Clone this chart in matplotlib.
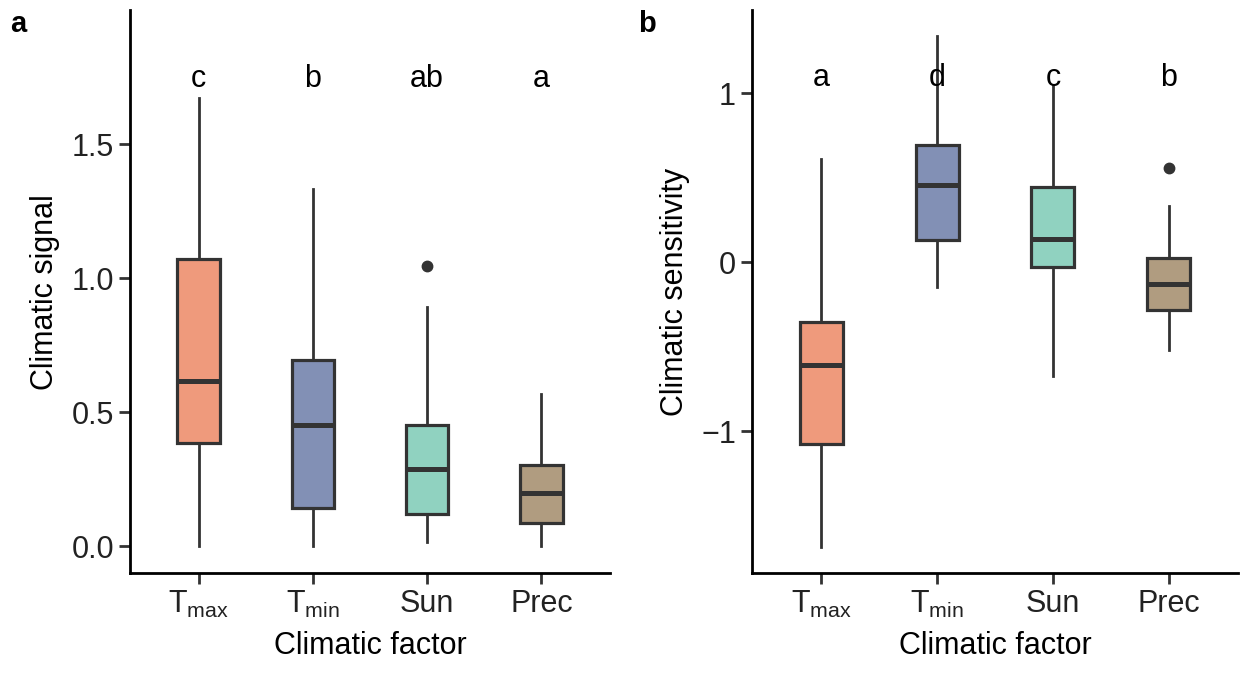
import matplotlib.pyplot as plt

plt.rcParams['font.family'] = ['Liberation Sans', 'DejaVu Sans']
plt.rcParams['mathtext.fontset'] = 'custom'
plt.rcParams['mathtext.rm'] = 'Liberation Sans'
plt.rcParams['mathtext.it'] = 'Liberation Sans'

# categories
factors = [r'T$_{\mathrm{max}}$', r'T$_{\mathrm{min}}$', 'Sun', 'Prec']
colors = ['#EF9A7C', '#8290B5', '#90D2C0', '#B09C80']

# panel a: climatic signal (whislo, q1, med, q3, whishi)
sig_low = [0.0, 0.0, 0.016, 0.0]
sig_q1 = [0.387, 0.142, 0.121, 0.085]
sig_med = [0.618, 0.452, 0.290, 0.197]
sig_q3 = [1.073, 0.694, 0.452, 0.302]
sig_high = [1.673, 1.334, 0.892, 0.569]
sig_out = [[], [], [1.045], []]
sig_letters = ['c', 'b', 'ab', 'a']

# panel b: climatic sensitivity
sen_low = [-1.687, -0.149, -0.672, -0.518]
sen_q1 = [-1.077, 0.128, -0.031, -0.282]
sen_med = [-0.610, 0.454, 0.136, -0.128]
sen_q3 = [-0.354, 0.692, 0.444, 0.026]
sen_high = [0.610, 1.338, 1.046, 0.333]
sen_out = [[], [], [], [0.559]]
sen_letters = ['a', 'd', 'c', 'b']

dark = '#333333'


def stats(low, q1, med, q3, high, out):
    return [dict(whislo=a, q1=b, med=c, q3=d, whishi=e, fliers=f)
            for a, b, c, d, e, f in zip(low, q1, med, q3, high, out)]


def panel(ax, st, letters, ylab, ylim, yticks, ytl, letter_y):
    pos = range(1, len(st) + 1)
    bp = ax.bxp(st, positions=pos, widths=0.37, patch_artist=True, showcaps=False,
                boxprops=dict(edgecolor=dark, linewidth=2.3),
                medianprops=dict(color=dark, linewidth=3.6, solid_capstyle='butt'),
                whiskerprops=dict(color=dark, linewidth=2.0),
                flierprops=dict(marker='o', markerfacecolor=dark, markeredgecolor=dark,
                                markersize=7.5))
    for patch, c in zip(bp['boxes'], colors):
        patch.set_facecolor(c)
    for i, t in enumerate(letters):
        ax.text(i + 1, letter_y, t, ha='center', va='center', fontsize=22, color='black')
    ax.set_xlim(0.4, 4.6)
    ax.set_ylim(*ylim)
    ax.set_yticks(yticks)
    ax.set_yticklabels(ytl)
    ax.set_xticks(list(pos))
    ax.set_xticklabels(factors)
    ax.tick_params(labelsize=22, width=2.0, length=8, color=dark, labelcolor='#222222')
    ax.set_xlabel('Climatic factor', fontsize=22, labelpad=8)
    ax.set_ylabel(ylab, fontsize=22, labelpad=8)
    for s in ['top', 'right']:
        ax.spines[s].set_visible(False)
    for s in ['left', 'bottom']:
        ax.spines[s].set_linewidth(2.0)
        ax.spines[s].set_color('black')


fig = plt.figure(figsize=(12.41, 6.79), dpi=100)
ax1 = fig.add_axes([0.1048, 0.156, 0.3867, 0.829])
ax2 = fig.add_axes([0.606, 0.156, 0.3916, 0.829])

panel(ax1, stats(sig_low, sig_q1, sig_med, sig_q3, sig_high, sig_out), sig_letters,
      'Climatic signal', (-0.1, 2.0), [0.0, 0.5, 1.0, 1.5], ['0.0', '0.5', '1.0', '1.5'],
      1.742)
panel(ax2, stats(sen_low, sen_q1, sen_med, sen_q3, sen_high, sen_out), sen_letters,
      'Climatic sensitivity', (-1.84, 1.49), [-1, 0, 1], ['\u22121', '0', '1'],
      1.09)

fig.text(10 / 1241, 1 - 24 / 679, 'a', fontsize=21, fontweight='bold', ha='left', va='center')
fig.text(638 / 1241, 1 - 24 / 679, 'b', fontsize=21, fontweight='bold', ha='left', va='center')

fig.savefig('out.png', dpi=100)
